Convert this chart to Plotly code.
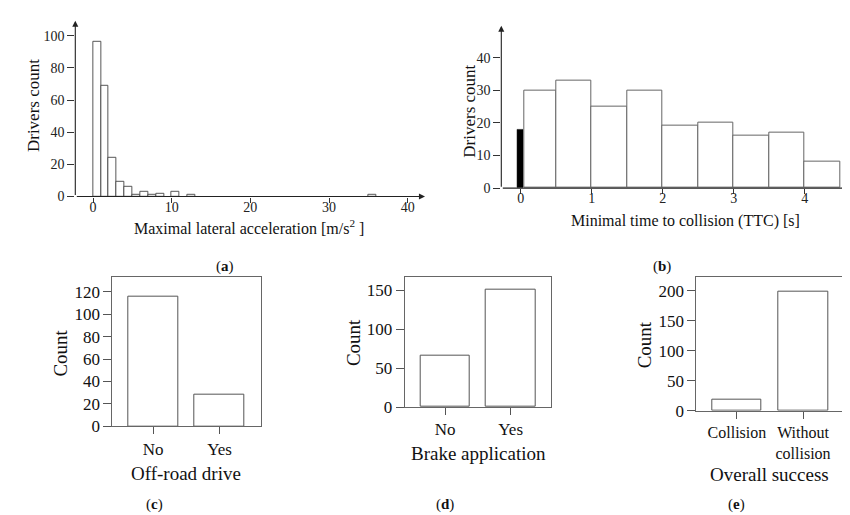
import plotly.graph_objects as go

W, H = 850, 515

# ---------------- data ----------------
# (a) maximal lateral acceleration histogram (bin width 1 m/s^2)
acc_bin_left = [0, 1, 2, 3, 4, 5, 6, 7, 8, 10, 12, 35]
acc_counts = [96, 69, 24, 9, 6, 1, 3, 1, 2, 3, 1, 1]
acc_ticks = [0, 10, 20, 30, 40]
acc_yticks = [0, 20, 40, 60, 80, 100]

# (b) minimal TTC histogram
ttc_collision_x = [0]
ttc_collision_count = [18]
ttc_edges = [0.05, 0.5, 1.0, 1.5, 2.0, 2.5, 3.0, 3.5, 4.0, 4.5]
ttc_counts = [30, 33, 25, 30, 19, 20, 16, 17, 8]
ttc_ticks = [0, 1, 2, 3, 4]
ttc_yticks = [0, 10, 20, 30, 40]

# (c) off-road drive
offroad_cats = ["No", "Yes"]
offroad_counts = [116, 28]
offroad_yticks = [0, 20, 40, 60, 80, 100, 120]

# (d) brake application
brake_cats = ["No", "Yes"]
brake_counts = [66, 150]
brake_yticks = [0, 50, 100, 150]

# (e) overall success
success_cats = ["Collision", "Without<br>collision"]
success_counts = [18, 198]
success_yticks = [0, 50, 100, 150, 200]

# ---------------- helpers ----------------
def px(x):
    return x / W

def py(y):
    return 1 - y / H

SERIF = "'Liberation Serif', 'Times New Roman', Times, serif"
fig = go.Figure()

# (a)
fig.add_trace(go.Bar(
    x=[b + 0.5 for b in acc_bin_left], y=acc_counts, width=1,
    marker=dict(color="white", line=dict(color="#444", width=0.9)),
    xaxis="x", yaxis="y", showlegend=False))
# invisible helper so the label-only overlay axis is rendered
fig.add_trace(go.Scatter(x=acc_ticks, y=[0] * len(acc_ticks), mode="markers",
                         marker=dict(opacity=0), hoverinfo="skip",
                         xaxis="x6", yaxis="y", showlegend=False))

# (b)
fig.add_trace(go.Bar(
    x=ttc_collision_x, y=ttc_collision_count, width=0.085,
    marker=dict(color="black", line=dict(color="black", width=0.5)),
    xaxis="x2", yaxis="y2", showlegend=False))
ttc_centers = [(a + b) / 2 for a, b in zip(ttc_edges[:-1], ttc_edges[1:])]
ttc_widths = [b - a for a, b in zip(ttc_edges[:-1], ttc_edges[1:])]
fig.add_trace(go.Bar(
    x=ttc_centers, y=ttc_counts, width=ttc_widths,
    marker=dict(color="white", line=dict(color="#666", width=1)),
    xaxis="x2", yaxis="y2", showlegend=False))
fig.add_trace(go.Scatter(x=ttc_ticks, y=[0] * len(ttc_ticks), mode="markers",
                         marker=dict(opacity=0), hoverinfo="skip",
                         xaxis="x7", yaxis="y2", showlegend=False))

# (c) (d) (e)
for i, (cats, vals) in enumerate([(offroad_cats, offroad_counts),
                                  (brake_cats, brake_counts),
                                  (success_cats, success_counts)]):
    fig.add_trace(go.Bar(
        x=list(range(len(cats))), y=vals, width=0.75,
        marker=dict(color="white", line=dict(color="#555", width=1)),
        xaxis=f"x{i+3}", yaxis=f"y{i+3}", showlegend=False))

tickfont_ab = dict(family=SERIF, size=14, color="#222")
tickfont_cde = dict(family=SERIF, size=17, color="#111")

xa_dom, xa_rng = [px(67.3), px(417)], [-2.25, 42.2]
xb_dom, xb_rng = [px(493.3), 1.0], [-0.273, 4.751]

layout = dict(
    width=W, height=H, margin=dict(l=0, r=0, t=0, b=0),
    paper_bgcolor="white", plot_bgcolor="white",
    bargap=0, barmode="overlay",
    font=dict(family=SERIF),
    # (a) - tick marks
    xaxis=dict(domain=xa_dom, range=xa_rng,
               tickvals=acc_ticks, ticks="outside", ticklen=5, tickcolor="#333",
               showticklabels=False,
               showgrid=False, zeroline=False, showline=False, anchor="y"),
    # (a) - tick labels (overlay axis, sits closer to the axis line)
    xaxis6=dict(range=xa_rng, overlaying="x", anchor="y",
                tickvals=acc_ticks, ticks="", showgrid=False, zeroline=False,
                showline=False, tickfont=tickfont_ab),
    yaxis=dict(domain=[py(192.3), py(13)], range=[0, 109.3],
               tickvals=acc_yticks, ticks="outside", ticklen=7, tickcolor="#333",
               showgrid=False, zeroline=False, showline=False, tickfont=tickfont_ab,
               anchor="x"),
    # (b)
    xaxis2=dict(domain=xb_dom, range=xb_rng,
                tickvals=ttc_ticks, ticks="outside", ticklen=5, tickcolor="#333",
                showticklabels=False,
                showgrid=False, zeroline=False, showline=False, anchor="y2"),
    xaxis7=dict(range=xb_rng, overlaying="x2", anchor="y2",
                tickvals=ttc_ticks, ticks="", showgrid=False, zeroline=False,
                showline=False, tickfont=tickfont_ab),
    yaxis2=dict(domain=[py(183.7), py(18)], range=[0, 49.8],
                tickvals=ttc_yticks, ticks="outside", ticklen=7, tickcolor="#333",
                showgrid=False, zeroline=False, showline=False, tickfont=tickfont_ab,
                anchor="x2"),
)

box_specs = [
    (3, [104.3, 252.7], [274, 426.7], 133.4, offroad_cats, offroad_yticks, 17),
    (4, [396.7, 543.3], [274, 407.0], 167.3, brake_cats, brake_yticks, 17),
    (5, [688.3, 836.0], [274, 410.7], 223.4, success_cats, success_yticks, 16),
]
for n, xd, yd, ytop, cats, yt, fs in box_specs:
    layout[f"xaxis{n}"] = dict(
        domain=[px(xd[0]), px(xd[1])], range=[-0.615, 1.62],
        tickvals=list(range(len(cats))), ticktext=cats,
        ticks="outside", ticklen=7, tickcolor="#555",
        showline=True, linecolor="#666", linewidth=1, mirror=True,
        showgrid=False, zeroline=False,
        tickfont=dict(family=SERIF, size=fs, color="#111"), anchor=f"y{n}")
    layout[f"yaxis{n}"] = dict(
        domain=[py(yd[1]), py(yd[0])], range=[0, ytop],
        tickvals=yt, ticks="outside", ticklen=8, tickcolor="#555",
        showline=True, linecolor="#666", linewidth=1, mirror=True,
        showgrid=False, zeroline=False, tickfont=tickfont_cde, anchor=f"x{n}")

fig.update_layout(**layout)

ann = []
# axis arrows for (a) and (b)
for xr, yr, x0, x1, y1 in [("x", "y", -2.25, 42.2, 109.3), ("x2", "y2", -0.273, 4.8, 49.8)]:
    ann.append(dict(xref=xr, yref=yr, axref=xr, ayref=yr, x=x1, y=0, ax=x0, ay=0,
                    text="", showarrow=True, arrowhead=2, arrowsize=1.1,
                    arrowwidth=1.1, arrowcolor="#222", standoff=0, startstandoff=0))
    ann.append(dict(xref=xr, yref=yr, axref=xr, ayref=yr, x=x0, y=y1, ax=x0, ay=0,
                    text="", showarrow=True, arrowhead=2, arrowsize=1.1,
                    arrowwidth=1.1, arrowcolor="#222", standoff=0, startstandoff=0))

def txt(x, y, s, size, angle=0, color="#111"):
    ann.append(dict(xref="paper", yref="paper", x=px(x), y=py(y), text=s,
                    showarrow=False, textangle=angle, xanchor="center", yanchor="middle",
                    font=dict(family=SERIF, size=size, color=color)))

# titles
txt(241, 223, "Maximal lateral acceleration [m/s<sup>2</sup> ]", 16)
txt(25, 100, "Drivers count", 17, -90)
txt(677.5, 217.5, "Minimal time to collision (TTC) [s]", 16)
txt(461.7, 105, "Drivers count", 17, -90)
txt(178, 475, "Off-road drive", 19)
txt(52.7, 351.7, "Count", 19, -90)
txt(470, 454, "Brake application", 19)
txt(345, 341.7, "Count", 19, -90)
txt(761.7, 476, "Overall success", 19)
txt(636.7, 343.3, "Count", 19, -90)

# panel labels
txt(217, 263.5, "(<b>a</b>)", 15)
txt(654, 263.5, "(<b>b</b>)", 15)
txt(146.7, 506.5, "(<b>c</b>)", 15)
txt(436.7, 506.5, "(<b>d</b>)", 15)
txt(728.3, 506.5, "(<b>e</b>)", 15)

fig.update_layout(annotations=ann)
fig.write_html("out.html")
